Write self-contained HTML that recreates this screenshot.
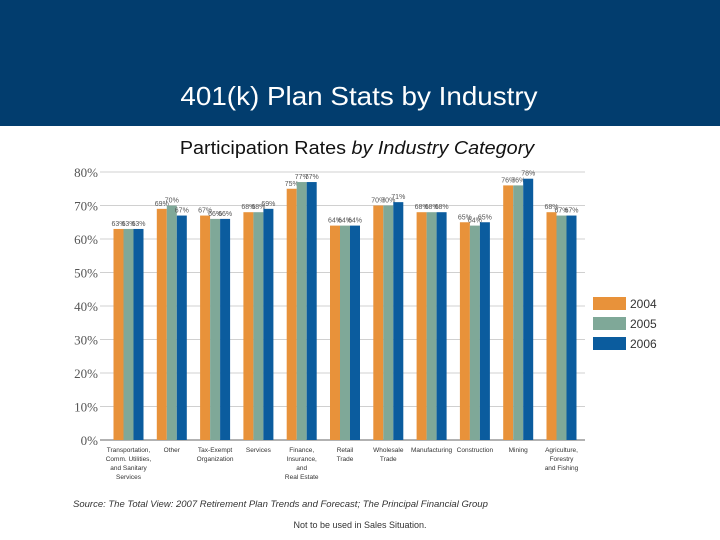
<!DOCTYPE html>
<html><head><meta charset="utf-8"><style>
body{margin:0;width:720px;height:540px;background:#fff;font-family:"Liberation Sans",sans-serif;overflow:hidden;position:relative}
.hdr{position:absolute;left:0;top:0;width:720px;height:126px;background:#023d6e}
.t{position:absolute;left:0;width:720px;text-align:center}
</style></head><body>
<div class="hdr"></div>
<div class="t" style="top:81px;font-size:26px;color:#fff;transform:scaleX(1.07);left:-1px">401(k) Plan Stats by Industry</div>
<div class="t" style="top:138px;font-size:18px;color:#111;left:-3px;transform:scaleX(1.1)">Participation Rates <i>by Industry Category</i></div>
<svg id="c" width="720" height="540" style="position:absolute;left:0;top:0"></svg>
<div style="position:absolute;left:73px;top:499px;font-size:9.5px;font-style:italic;color:#333">Source: The Total View: 2007 Retirement Plan Trends and Forecast; The Principal Financial Group</div>
<div class="t" style="top:520px;font-size:9px;color:#333">Not to be used in Sales Situation.</div>
<script>
const categories=[["Transportation,","Comm. Utilities,","and Sanitary","Services"],["Other"],["Tax-Exempt","Organization"],["Services"],["Finance,","Insurance,","and","Real Estate"],["Retail","Trade"],["Wholesale","Trade"],["Manufacturing"],["Construction"],["Mining"],["Agriculture,","Forestry","and Fishing"]];
const series=["2004","2005","2006"];
const v2004=[63,69,67,68,75,64,70,68,65,76,68];
const v2005=[63,70,66,68,77,64,70,68,64,76,67];
const v2006=[63,67,66,69,77,64,71,68,65,78,67];
const yTicks=[0,10,20,30,40,50,60,70,80];
const colors=["#e8923a","#7fa898","#0b5c9e"];
const svg=document.getElementById('c');const NS="http://www.w3.org/2000/svg";
function y(v){return 440-v*3.35}
function x(i){return 128.5+i*43.3}
function mk(t,a,p){const e=document.createElementNS(NS,t);for(const k in a)e.setAttribute(k,a[k]);(p||svg).appendChild(e);return e}
yTicks.forEach(t=>{
 const l=mk('line',{x1:100,x2:585,y1:y(t),y2:y(t),stroke:t?'#d0d0d0':'#999','stroke-width':t?1:1.5});
 
 
 const tx=mk('text',{x:98,y:y(t)+5,'text-anchor':'end','font-size':13,fill:'#555','font-family':'Liberation Serif, serif'});tx.textContent=t+'%';
 
 
});
const all=[v2004,v2005,v2006];
categories.forEach((c,i)=>{
 all.forEach((s,j)=>{
  const bx=x(i)-15+j*10;
  const r=mk('rect',{x:bx,y:y(s[i]),width:10,height:440-y(s[i]),fill:colors[j]});
  
  
  const lb=mk('text',{x:bx+5,y:y(s[i])-3,'text-anchor':'middle','font-size':7,fill:'#555'});lb.textContent=s[i]+'%';
  
  
 });
 const t=mk('text',{x:x(i),y:452,'text-anchor':'middle','font-size':6.5,fill:'#333'});
 
 
 c.forEach((ln,k)=>{const ts=mk('tspan',{x:x(i),dy:k?9:0},t);ts.textContent=ln;});
});
series.forEach((s,j)=>{
 const ly=297+j*20;
 const r=mk('rect',{x:593,y:ly,width:33,height:13,fill:colors[j]});
 
 
 const t=mk('text',{x:630,y:ly+11,'font-size':12,fill:'#333'});t.textContent=s;
 
 
});
</script>
</body></html>
